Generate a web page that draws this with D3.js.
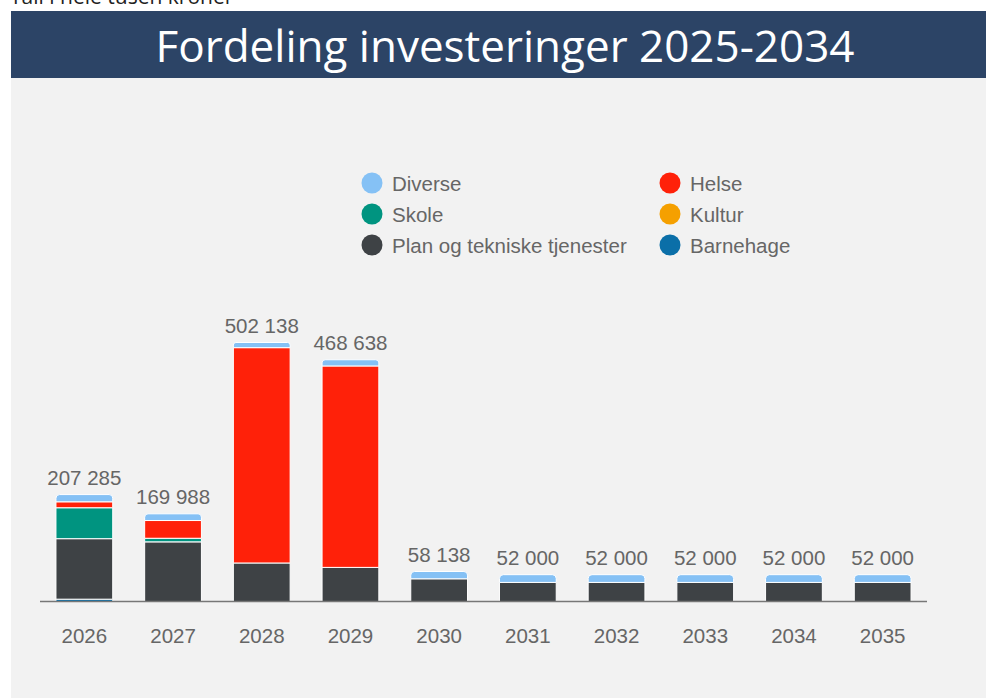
<!DOCTYPE html>
<html>
<head>
<meta charset="utf-8">
<script src="https://cdn.jsdelivr.net/npm/d3@7"></script>
<style>
  body { margin: 0; background: #fff; }
  svg { display: block; }
</style>
</head>
<body>
<div id="chart"></div>
<script>
// data (tusen kroner)
const years = ["2026", "2027", "2028", "2029", "2030", "2031", "2032", "2033", "2034", "2035"];
const barnehage = [4500, 0, 0, 0, 0, 0, 0, 0, 0, 0];
const plan = [117285, 115600, 74700, 66100, 44000, 37000, 37000, 37000, 37000, 37000];
const kultur = [0, 0, 0, 0, 0, 0, 0, 0, 0, 0];
const skole = [60000, 7000, 0, 0, 0, 0, 0, 0, 0, 0];
const helse = [11500, 34388, 417438, 390538, 0, 0, 0, 0, 0, 0];
const diverse = [14000, 13000, 10000, 12000, 14138, 15000, 15000, 15000, 15000, 15000];

const seriesNames = ["Barnehage", "Plan og tekniske tjenester", "Kultur", "Skole", "Helse", "Diverse"];
const seriesValues = [barnehage, plan, kultur, skole, helse, diverse];
const colors = {
  "Diverse": "#85c1f5",
  "Helse": "#ff2109",
  "Skole": "#009480",
  "Kultur": "#f5a000",
  "Plan og tekniske tjenester": "#3e4245",
  "Barnehage": "#0b6fa8"
};
const legendOrder = [["Diverse", "Helse"], ["Skole", "Kultur"], ["Plan og tekniske tjenester", "Barnehage"]];

const W = 986, H = 698;
const labelFont = "Liberation Sans, Arial";
const svg = d3.select("#chart").append("svg").attr("width", W).attr("height", H);

// grey panel + title banner
svg.append("rect").attr("x", 11).attr("y", 78).attr("width", W - 11).attr("height", H - 78).attr("fill", "#f2f2f2");
svg.append("rect").attr("x", 11).attr("y", 11).attr("width", W - 11).attr("height", 67).attr("fill", "#2c4466");
svg.append("text").attr("x", 505).attr("y", 62).attr("text-anchor", "middle")
  .attr("font-family", "Open Sans").attr("font-size", 44).attr("fill", "#fff")
  .text("Fordeling investeringer 2025-2034");
svg.append("text").attr("x", 10).attr("y", 4)
  .attr("font-family", "Open Sans").attr("font-size", 21).attr("fill", "#222")
  .text("Tall i hele tusen kroner");

// rows for stacking
const rows = years.map((y, i) => {
  const r = { year: y };
  seriesNames.forEach((s, j) => r[s] = seriesValues[j][i]);
  return r;
});
const stacked = d3.stack().keys(seriesNames)(rows);
const totals = rows.map(r => d3.sum(seriesNames, s => r[s]));

const x = d3.scaleBand().domain(years).range([40, 927]).paddingInner(0.36).paddingOuter(0.18);
const y = d3.scaleLinear().domain([0, 502138]).range([601.5, 342.5]);

// top non-zero series index for each year (gets rounded corners)
const topIdx = years.map((yr, i) => {
  let t = -1;
  seriesValues.forEach((v, j) => { if (v[i] > 0) t = j; });
  return t;
});

function segPath(x0, w, yTop, yBot, round) {
  const r = Math.min(round ? 4 : 0, (yBot - yTop) / 2);
  return `M${x0},${yBot}V${yTop + r}Q${x0},${yTop} ${x0 + r},${yTop}H${x0 + w - r}Q${x0 + w},${yTop} ${x0 + w},${yTop + r}V${yBot}Z`;
}

const g = svg.append("g");
stacked.forEach((layer, j) => {
  g.append("g").selectAll("path")
    .data(layer.map((d, i) => ({ d, i })).filter(o => o.d[1] - o.d[0] > 0))
    .enter().append("path")
    .attr("d", o => segPath(x(years[o.i]), x.bandwidth(), y(o.d[1]), y(o.d[0]), topIdx[o.i] === j))
    .attr("fill", colors[layer.key])
    .attr("stroke", "#fff")
    .attr("stroke-width", 1);
});

// axis line
svg.append("line").attr("x1", 40).attr("x2", 927).attr("y1", 601.5).attr("y2", 601.5)
  .attr("stroke", "#777").attr("stroke-width", 1.5);

// x labels via axis
const xAxis = svg.append("g").attr("transform", "translate(0,601.5)")
  .call(d3.axisBottom(x).tickSize(0).tickPadding(27));
xAxis.select(".domain").remove();
xAxis.selectAll("text").attr("font-family", labelFont).attr("font-size", 20.5).attr("fill", "#666");

// totals above bars
const fmt = v => d3.format(",")(v).replace(/,/g, " ");
svg.append("g").selectAll("text").data(years).enter().append("text")
  .attr("x", d => x(d) + x.bandwidth() / 2)
  .attr("y", (d, i) => y(totals[i]) - 10)
  .attr("text-anchor", "middle")
  .attr("font-family", labelFont).attr("font-size", 20.5).attr("fill", "#666")
  .text((d, i) => fmt(totals[i]));

// legend
const lg = svg.append("g");
legendOrder.forEach((row, ri) => {
  row.forEach((name, ci) => {
    const cx = ci === 0 ? 372 : 670;
    const cy = 183 + ri * 31;
    lg.append("circle").attr("cx", cx).attr("cy", cy).attr("r", 10.5).attr("fill", colors[name]);
    lg.append("text").attr("x", cx + 20).attr("y", cy + 7.5)
      .attr("font-family", labelFont).attr("font-size", 20.5).attr("fill", "#666")
      .text(name);
  });
});
</script>
</body>
</html>
